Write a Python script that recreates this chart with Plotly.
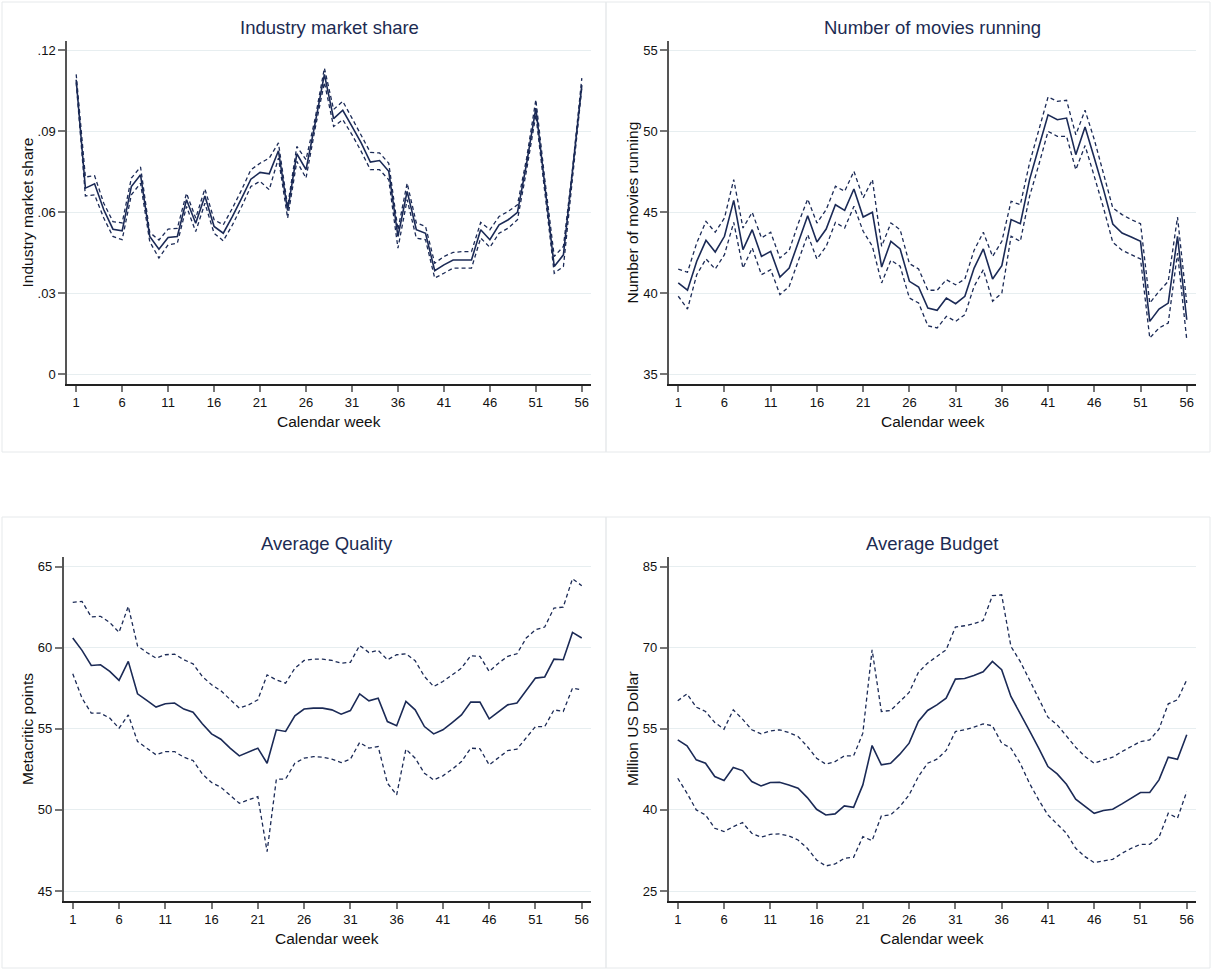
import plotly.graph_objects as go

weeks = list(range(1, 57))

# Panel 1: Industry market share
share_mean = [0.109, 0.0689, 0.0705, 0.0609, 0.0537, 0.0531, 0.0695, 0.0738, 0.051, 0.0463, 0.0506, 0.051, 0.0646, 0.0559, 0.066, 0.0547, 0.0522, 0.0584, 0.0652, 0.0722, 0.0747, 0.0742, 0.0827, 0.0606, 0.0816, 0.0757, 0.093, 0.111, 0.0946, 0.0977, 0.0917, 0.0856, 0.0785, 0.0791, 0.0751, 0.051, 0.0677, 0.0535, 0.0522, 0.0383, 0.0405, 0.0423, 0.0423, 0.0423, 0.0535, 0.0498, 0.0553, 0.0572, 0.0599, 0.0781, 0.0985, 0.0695, 0.0399, 0.0442, 0.0744, 0.107]
share_upper = [0.111, 0.073, 0.0735, 0.0633, 0.0565, 0.056, 0.0726, 0.0767, 0.0525, 0.0497, 0.0537, 0.054, 0.067, 0.0578, 0.0686, 0.0572, 0.0553, 0.0615, 0.0683, 0.0757, 0.0781, 0.080, 0.0856, 0.0621, 0.0843, 0.0794, 0.0948, 0.1133, 0.098, 0.101, 0.0948, 0.0887, 0.0821, 0.0819, 0.0781, 0.0535, 0.0707, 0.056, 0.0547, 0.0411, 0.0436, 0.0451, 0.0454, 0.0454, 0.0562, 0.0535, 0.0584, 0.0603, 0.0627, 0.080, 0.1016, 0.0714, 0.0436, 0.0473, 0.0763, 0.1096]
share_lower = [0.108, 0.066, 0.0664, 0.0578, 0.051, 0.0498, 0.0664, 0.0707, 0.0491, 0.043, 0.0479, 0.0485, 0.0621, 0.0528, 0.0633, 0.0522, 0.0494, 0.0553, 0.0621, 0.0695, 0.0714, 0.0683, 0.080, 0.0578, 0.0788, 0.0726, 0.0911, 0.108, 0.0917, 0.0942, 0.0887, 0.0825, 0.0757, 0.0757, 0.072, 0.0467, 0.0646, 0.0504, 0.0498, 0.0356, 0.0374, 0.0393, 0.0393, 0.0393, 0.0504, 0.047, 0.0522, 0.0541, 0.0572, 0.0757, 0.096, 0.067, 0.0374, 0.0399, 0.072, 0.106]

# Panel 2: Number of movies running
movies_mean = [40.62, 40.17, 41.96, 43.25, 42.53, 43.5, 45.72, 42.68, 43.91, 42.26, 42.57, 40.99, 41.54, 43.19, 44.77, 43.15, 43.95, 45.45, 45.1, 46.42, 44.69, 44.98, 41.6, 43.19, 42.72, 40.72, 40.37, 39.07, 38.93, 39.69, 39.34, 39.8, 41.54, 42.72, 40.86, 41.69, 44.53, 44.28, 47.0, 49.01, 51.0, 50.7, 50.8, 48.54, 50.25, 48.33, 46.38, 44.26, 43.7, 43.46, 43.19, 38.25, 39.01, 39.38, 43.5, 38.35]
movies_upper = [41.48, 41.28, 43.09, 44.42, 43.75, 44.63, 47.0, 44.01, 44.98, 43.4, 43.75, 42.16, 42.64, 44.32, 45.8, 44.32, 45.15, 46.59, 46.28, 47.51, 45.87, 47.0, 42.88, 44.32, 43.91, 41.81, 41.48, 40.17, 40.17, 40.82, 40.51, 40.86, 42.64, 43.75, 42.26, 43.19, 45.66, 45.45, 48.03, 50.08, 52.1, 51.83, 51.9, 49.77, 51.28, 49.47, 47.41, 45.25, 44.84, 44.53, 44.28, 39.38, 40.1, 40.72, 44.69, 39.38]
movies_lower = [39.8, 39.01, 41.13, 42.1, 41.48, 42.37, 44.36, 41.54, 42.78, 41.13, 41.44, 39.9, 40.41, 41.96, 43.6, 42.1, 42.88, 44.36, 44.01, 45.35, 43.81, 42.88, 40.62, 42.02, 41.65, 39.69, 39.38, 37.98, 37.84, 38.56, 38.25, 38.66, 40.41, 41.44, 39.49, 40.0, 43.5, 43.19, 45.97, 47.92, 49.98, 49.67, 49.67, 47.61, 49.1, 47.2, 45.25, 43.13, 42.64, 42.37, 42.1, 37.22, 37.84, 38.15, 42.47, 37.12]

# Panel 3: Average Quality
quality_mean = [60.6, 59.84, 58.91, 58.95, 58.54, 57.99, 59.16, 57.16, 56.75, 56.34, 56.55, 56.59, 56.22, 56.03, 55.31, 54.69, 54.36, 53.81, 53.33, 53.56, 53.81, 52.88, 54.94, 54.84, 55.8, 56.22, 56.28, 56.28, 56.17, 55.9, 56.13, 57.16, 56.73, 56.89, 55.45, 55.19, 56.69, 56.17, 55.14, 54.69, 54.94, 55.39, 55.86, 56.65, 56.65, 55.62, 56.07, 56.48, 56.59, 57.37, 58.13, 58.2, 59.3, 59.26, 60.95, 60.6]
quality_upper = [62.8, 62.86, 61.9, 61.94, 61.56, 60.95, 62.55, 60.12, 59.71, 59.36, 59.57, 59.61, 59.26, 59.01, 58.23, 57.72, 57.35, 56.83, 56.28, 56.48, 56.79, 58.33, 58.02, 57.82, 58.74, 59.22, 59.3, 59.3, 59.22, 59.05, 59.1, 60.14, 59.71, 59.84, 59.26, 59.57, 59.63, 59.2, 58.23, 57.61, 57.92, 58.33, 58.74, 59.51, 59.47, 58.54, 59.05, 59.47, 59.63, 60.6, 61.11, 61.28, 62.45, 62.51, 64.26, 63.83]
quality_lower = [58.4, 56.89, 55.97, 55.97, 55.66, 55.04, 55.86, 54.22, 53.81, 53.4, 53.6, 53.6, 53.25, 53.05, 52.22, 51.69, 51.4, 50.93, 50.41, 50.62, 50.82, 47.43, 51.89, 51.91, 52.88, 53.19, 53.29, 53.25, 53.13, 52.92, 53.13, 54.16, 53.81, 53.91, 51.65, 50.93, 53.75, 53.19, 52.26, 51.85, 52.1, 52.51, 52.98, 53.81, 53.77, 52.78, 53.25, 53.66, 53.75, 54.42, 55.14, 55.14, 56.17, 56.07, 57.51, 57.41]

# Panel 4: Average Budget
budget_mean = [52.96, 51.85, 49.26, 48.64, 46.17, 45.43, 47.84, 47.28, 45.25, 44.44, 45.06, 45.12, 44.63, 44.01, 42.28, 40.12, 39.07, 39.26, 40.74, 40.49, 44.63, 51.91, 48.33, 48.64, 50.31, 52.35, 56.36, 58.4, 59.44, 60.68, 64.2, 64.32, 64.88, 65.56, 67.47, 65.93, 60.99, 57.9, 54.69, 51.42, 48.03, 46.67, 44.75, 41.98, 40.62, 39.38, 39.88, 40.12, 41.11, 42.16, 43.21, 43.21, 45.56, 49.75, 49.38, 53.89]
budget_upper = [60.19, 61.48, 59.01, 58.21, 56.17, 54.94, 58.52, 56.79, 54.82, 54.07, 54.63, 54.82, 54.32, 53.58, 51.73, 49.57, 48.46, 48.95, 50.0, 50.0, 54.2, 69.63, 58.21, 58.4, 60.06, 61.73, 65.43, 67.16, 68.4, 69.63, 73.83, 74.07, 74.45, 75.06, 79.63, 79.8, 70.25, 67.47, 64.07, 60.68, 57.16, 55.74, 53.7, 51.6, 49.88, 48.64, 49.26, 49.75, 50.8, 51.73, 52.65, 52.96, 54.94, 59.63, 60.37, 64.07]
budget_lower = [45.86, 43.09, 40.0, 39.07, 36.6, 35.99, 36.91, 37.65, 35.68, 34.94, 35.49, 35.55, 35.19, 34.44, 32.9, 30.74, 29.63, 30.0, 31.05, 31.23, 35.06, 34.32, 38.89, 39.07, 40.62, 42.78, 46.17, 48.64, 49.38, 51.0, 54.51, 54.82, 55.31, 55.93, 55.56, 52.35, 51.42, 48.64, 44.94, 41.85, 39.07, 37.41, 35.68, 32.9, 31.36, 30.25, 30.62, 30.86, 31.98, 32.9, 33.64, 33.64, 34.94, 39.38, 38.46, 43.4]

x_ticks = [1, 6, 11, 16, 21, 26, 31, 36, 41, 46, 51, 56]
share_ticks = [0, 0.03, 0.06, 0.09, 0.12]
share_ticktext = ["0", ".03", ".06", ".09", ".12"]
movies_ticks = [35, 40, 45, 50, 55]
quality_ticks = [45, 50, 55, 60, 65]
budget_ticks = [25, 40, 55, 70, 85]

titles = ["Industry market share", "Number of movies running", "Average Quality", "Average Budget"]
ytitles = ["Industry market share", "Number of movies running", "Metacritic points", "Million US Dollar"]
xtitle = "Calendar week"

W, H = 1212, 972
LINE = "#1b2a56"
TITLE_C = "#1c2b52"
GRID = "#e7eef0"
FONT = "Liberation Sans, Arial, sans-serif"

def px(x):
    return x / W

def py(y):
    return 1 - y / H

# panel geometry in pixels: (x0, x1, ytop, ybottom)
panels = [
    (67, 591, 41, 384),
    (669, 1196, 41, 384),
    (63.5, 591, 557, 901),
    (668.5, 1196, 557, 901),
]
yranges = [
    [-0.00359, 0.12333],
    [34.383, 55.556],
    [44.383, 65.598],
    [23.15, 86.79],
]
series = [
    (share_mean, share_upper, share_lower, share_ticks, share_ticktext),
    (movies_mean, movies_upper, movies_lower, movies_ticks, [str(v) for v in movies_ticks]),
    (quality_mean, quality_upper, quality_lower, quality_ticks, [str(v) for v in quality_ticks]),
    (budget_mean, budget_upper, budget_lower, budget_ticks, [str(v) for v in budget_ticks]),
]

fig = go.Figure()
annotations = []
shapes = []

for i, (geo, yr, ser) in enumerate(zip(panels, yranges, series)):
    x0, x1, yt, yb = geo
    mean, up, lo, yt_vals, yt_text = ser
    n = "" if i == 0 else str(i + 1)
    xa, ya = "x" + n, "y" + n
    for vals, dash, wdt in ((up, "4px,3px", 1.3), (lo, "4px,3px", 1.3), (mean, "solid", 1.6)):
        fig.add_trace(go.Scatter(x=weeks, y=vals, mode="lines", xaxis=xa, yaxis=ya,
                                 line=dict(color=LINE, width=wdt, dash=dash),
                                 showlegend=False, hoverinfo="skip"))
    fig.layout["xaxis" + n] = dict(
        domain=[px(x0), px(x1)], range=[0, 57], anchor=ya,
        tickmode="array", tickvals=x_ticks, ticktext=[str(v) for v in x_ticks],
        ticks="outside", ticklen=6, tickwidth=1.5, tickcolor="#777777",
        showline=True, linecolor="#222222", linewidth=1.5,
        showgrid=False, zeroline=False,
        tickfont=dict(family=FONT, size=13, color="#111111"),
    )
    fig.layout["yaxis" + n] = dict(
        domain=[py(yb), py(yt)], range=yr, anchor=xa,
        tickmode="array", tickvals=yt_vals, ticktext=yt_text,
        ticks="outside", ticklen=7, tickwidth=1.5, tickcolor="#777777",
        showline=True, linecolor="#555555", linewidth=1.5,
        showgrid=True, gridcolor=GRID, gridwidth=1, zeroline=False,
        tickfont=dict(family=FONT, size=13, color="#111111"),
    )
    cx = (x0 + x1) / 2
    cy = (yt + yb) / 2
    annotations.append(dict(text=titles[i], x=px(cx), y=py(yt - 14), xref="paper", yref="paper",
                            xanchor="center", yanchor="middle", showarrow=False,
                            font=dict(family=FONT, size=18.5, color=TITLE_C)))
    annotations.append(dict(text=xtitle, x=px(cx), y=py(yb + 37), xref="paper", yref="paper",
                            xanchor="center", yanchor="middle", showarrow=False,
                            font=dict(family=FONT, size=15.5, color="#111111")))
    ytx = 27 if i % 2 == 0 else 632
    annotations.append(dict(text=ytitles[i], x=px(ytx), y=py(cy), xref="paper", yref="paper",
                            xanchor="center", yanchor="middle", showarrow=False, textangle=-90,
                            font=dict(family=FONT, size=15.5, color="#111111")))

# light frames around each sub-graph
frames = [(2, 2, 606, 452), (606, 2, 1210, 452), (2, 517, 606, 968), (606, 517, 1210, 968)]
for (a, b, c, d) in frames:
    shapes.append(dict(type="rect", xref="paper", yref="paper",
                       x0=px(a), x1=px(c), y0=py(d), y1=py(b),
                       line=dict(color="#e6e9eb", width=1), fillcolor="rgba(0,0,0,0)", layer="below"))

fig.update_layout(
    width=W, height=H, autosize=False,
    margin=dict(l=0, r=0, t=0, b=0),
    paper_bgcolor="white", plot_bgcolor="white",
    annotations=annotations, shapes=shapes,
    showlegend=False,
)

fig.write_html("out.html", config={"displayModeBar": False},
               post_script="document.body.style.margin='0';document.body.style.overflow='hidden';")
